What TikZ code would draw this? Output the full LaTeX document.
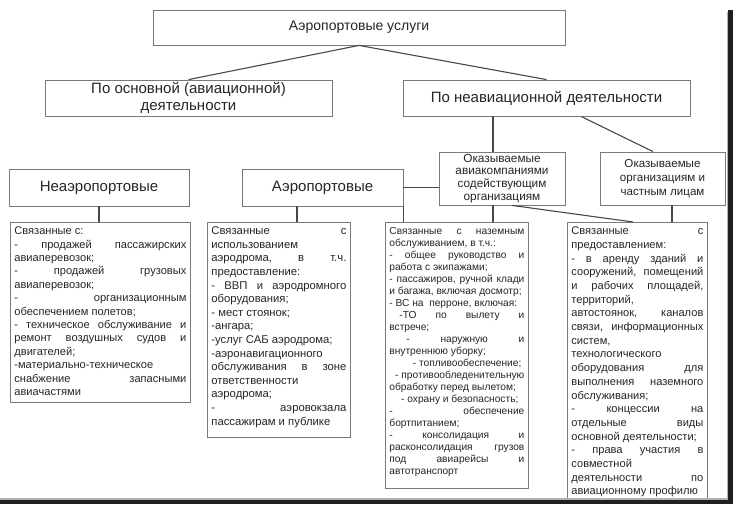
\documentclass[tikz,border=0pt]{standalone}
\usepackage{fontspec}
\setmainfont{Liberation Sans}
\definecolor{tg}{HTML}{262626}
\definecolor{bordc}{HTML}{7A7A7A}
\definecolor{connc}{HTML}{484848}
\newcommand{\desctext}[4]{\begin{minipage}[t][#2][t]{#1}\frenchspacing\fontsize{#3}{#4}\selectfont}
\newcommand{\descend}{\end{minipage}}
\newcommand{\J}[1]{\makebox[\linewidth][s]{#1}\par}
\newcommand{\R}[1]{\makebox[\linewidth][l]{#1}\par}
\newcommand{\RR}[2]{\makebox[\linewidth][r]{#1\hspace*{#2}}\par}
\tikzset{
  titlebox/.style={draw=bordc, line width=0.8bp, text=tg, align=center, inner sep=0pt},
  descbox/.style={draw=bordc, line width=0.8bp, text=tg, anchor=north west, inner xsep=4bp, inner ysep=4.5bp},
  conn/.style={draw=connc, line width=1.1bp},
}
\begin{document}
\begin{tikzpicture}[x=1bp,y=-1bp]
\useasboundingbox (0,0) rectangle (735,506);
\fill[white] (0,0) rectangle (735,506);

% title boxes
\node[titlebox, minimum width=412bp, minimum height=35bp, font=\fontsize{14bp}{16bp}\selectfont] (top) at (359,27.5) {Аэропортовые услуги};
\node[titlebox, minimum width=287bp, minimum height=36bp, font=\fontsize{15bp}{16.5bp}\selectfont] (osn) at (188.5,98) {По основной (авиационной)\\деятельности};
\node[titlebox, minimum width=287bp, minimum height=36bp, font=\fontsize{15bp}{17bp}\selectfont] (neav) at (546.5,98) {По неавиационной деятельности};
\node[titlebox, minimum width=180bp, minimum height=37bp, font=\fontsize{15bp}{17bp}\selectfont] (neaero) at (99,187.5) {Неаэропортовые};
\node[titlebox, minimum width=161bp, minimum height=37bp, font=\fontsize{15bp}{17bp}\selectfont] (aero) at (322.5,187.5) {Аэропортовые};
\node[titlebox, minimum width=126bp, minimum height=53bp, font=\fontsize{11.8bp}{12.8bp}\selectfont] (aviak) at (502,178.5) {Оказываемые\\авиакомпаниями\\содействующим\\организациям};
\node[titlebox, minimum width=125bp, minimum height=53bp, font=\fontsize{11.6bp}{14bp}\selectfont] (org) at (662.5,178.5) {Оказываемые\\организациям и\\частным лицам};

% description boxes
\node[descbox] (b1) at (10,222) {\desctext{172bp}{171bp}{11.1bp}{13.4bp}%
\R{Связанные с:}
\J{- продажей пассажирских}
\R{авиаперевозок;}
\J{- продажей грузовых}
\R{авиаперевозок;}
\J{- организационным}
\R{обеспечением полетов;}
\J{- техническое обслуживание и}
\J{ремонт воздушных судов и}
\R{двигателей;}
\R{-материально-техническое}
\J{снабжение запасными}
\R{авиачастями}\descend};

\node[descbox] (b2) at (207,222) {\desctext{135bp}{206bp}{11.3bp}{13.6bp}%
\J{Связанные с}
\R{использованием}
\J{аэродрома, в т.ч.}
\R{предоставление:}
\J{- ВВП и аэродромного}
\R{оборудования;}
\R{- мест стоянок;}
\R{-ангара;}
\R{-услуг САБ аэродрома;}
\R{-аэронавигационного}
\J{обслуживания в зоне}
\R{ответственности}
\R{аэродрома;}
\J{- аэровокзала}
\R{пассажирам и публике}\descend};

\node[descbox] (b3) at (385,222) {\desctext{135bp}{257bp}{10.2bp}{12bp}%
\J{Связанные с наземным}
\R{обслуживанием, в т.ч.:}
\J{- общее руководство и}
\R{работа с экипажами;}
\J{- пассажиров, ручной клади}
\R{и багажа, включая досмотр;}
\R{- ВС на\ \ перроне, включая:}
\J{\hspace*{10bp}-ТО по вылету и}
\R{встрече;}
\J{\hspace*{17bp}- наружную и}
\R{внутреннюю уборку;}
\RR{- топливообеспечение;}{3bp}
\RR{- противообледенительную}{0bp}
\R{обработку перед вылетом;}
\RR{- охрану и безопасность;}{6bp}
\J{- обеспечение}
\R{бортпитанием;}
\J{- консолидация и}
\J{расконсолидация грузов}
\J{под авиарейсы и}
\R{автотранспорт}\descend};

\node[descbox] (b4) at (567,222) {\desctext{132bp}{268bp}{11.1bp}{13.7bp}%
\J{Связанные с}
\R{предоставлением:}
\J{- в аренду зданий и}
\J{сооружений, помещений}
\J{и рабочих площадей,}
\R{территорий,}
\J{автостоянок, каналов}
\J{связи, информационных}
\R{систем,}
\R{технологического}
\J{оборудования для}
\J{выполнения наземного}
\R{обслуживания;}
\J{- концессии на}
\J{отдельные виды}
\R{основной деятельности;}
\J{- права участия в}
\R{совместной}
\J{деятельности по}
\R{авиационному профилю}\descend};

% connectors
\draw[conn] (top.south) -- (osn.north);
\draw[conn] (top.south) -- (neav.north);
\draw[conn] ([xshift=-9bp]aviak.north |- neav.south) -- ([xshift=-9bp]aviak.north);
\draw[conn] ([xshift=34.5bp]neav.south) -- ([xshift=-9.5bp]org.north);
\draw[conn] (neaero.south) -- (neaero.south |- b1.north);
\draw[conn] ([xshift=-25.5bp]aero.south) -- ([xshift=-25.5bp]aero.south |- b2.north);
\draw[conn] (aero.south east) -- (aero.south east |- b3.north);
\draw[conn] (aero.east) -- (aero.east -| aviak.west);
\draw[conn] ([xshift=-9bp]aviak.south) -- ([xshift=-9bp]aviak.south |- b3.north);
\draw[conn] ([xshift=10bp]aviak.south) -- ([xshift=66bp]b4.north west);
\draw[conn] ([xshift=9.5bp]org.south) -- ([xshift=9.5bp]org.south |- b4.north);

% shadow frame
\draw[black!30, line width=2bp] (727.5,12) -- (727.5,498.5) -- (0,498.5);
\draw[black!88, line width=4.5bp] (730.5,10) -- (730.5,502) -- (0,502);
\end{tikzpicture}
\end{document}
